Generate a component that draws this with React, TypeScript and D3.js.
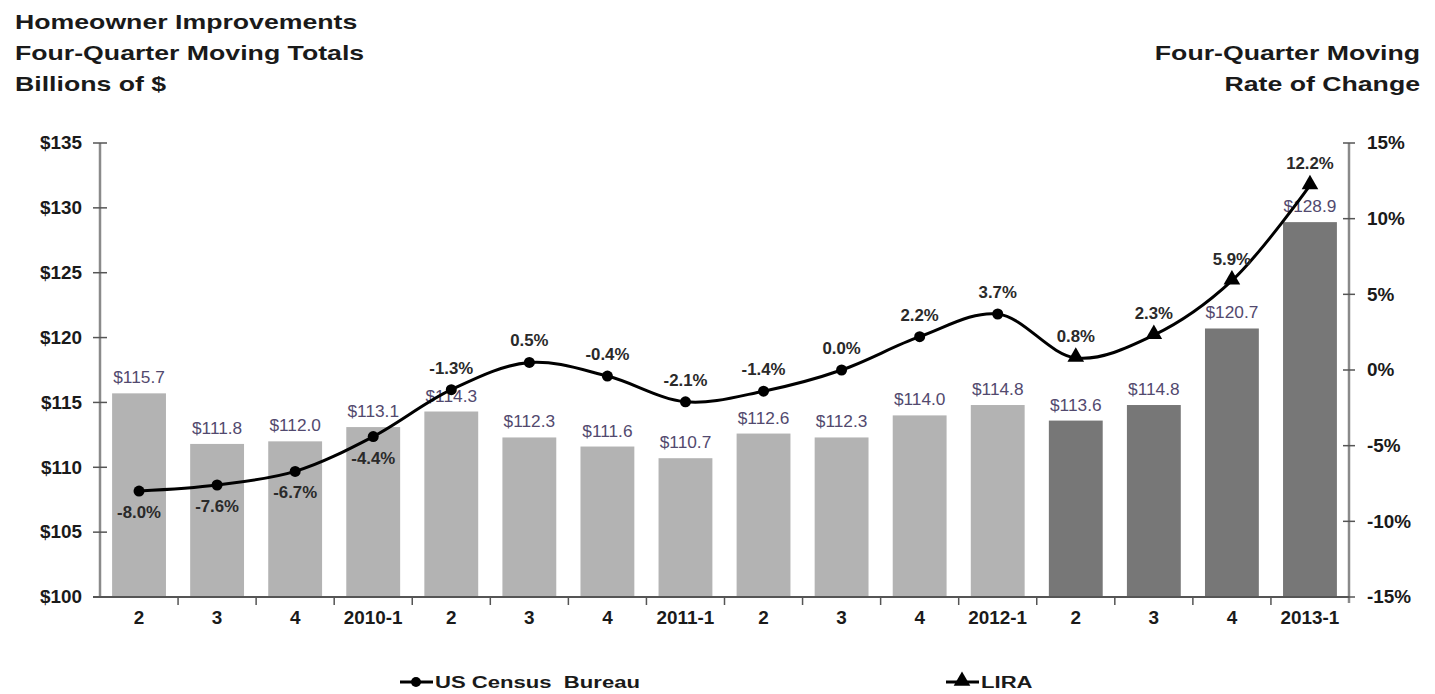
import { useRef, useEffect } from "react";
import * as d3 from "d3";

const quarters = ["2", "3", "4", "2010-1", "2", "3", "4", "2011-1", "2", "3", "4", "2012-1", "2", "3", "4", "2013-1"];
const totals = [115.7, 111.8, 112.0, 113.1, 114.3, 112.3, 111.6, 110.7, 112.6, 112.3, 114.0, 114.8, 113.6, 114.8, 120.7, 128.9];
const rates = [-8.0, -7.6, -6.7, -4.4, -1.3, 0.5, -0.4, -2.1, -1.4, 0.0, 2.2, 3.7, 0.8, 2.3, 5.9, 12.2];
// which points come from LIRA projections (rest is US Census Bureau)
const isLira = [false, false, false, false, false, false, false, false, false, false, false, false, true, true, true, true];
// rate labels that sit under the point
const labelBelow = [true, true, true, true, false, false, false, false, false, false, false, false, false, false, false, false];
const leftTicks = [100, 105, 110, 115, 120, 125, 130, 135];
const rightTicks = [-15, -10, -5, 0, 5, 10, 15];

type Sel = d3.Selection<any, unknown, null, undefined>;

// text with a bit of horizontal stretch, like the original image
function txt(
  parent: Sel,
  x: number,
  y: number,
  s: string,
  o: { size: number; bold?: boolean; anchor?: string; sx?: number; fill?: string; dy?: string }
) {
  return parent
    .append("text")
    .attr("transform", `translate(${x}, ${y}) scale(${o.sx ?? 1}, 1)`)
    .attr("text-anchor", o.anchor ?? "start")
    .attr("dy", o.dy ?? null)
    .attr("font-size", o.size)
    .attr("font-weight", o.bold ? "bold" : "normal")
    .attr("fill", o.fill ?? "#1a1a1a")
    .text(s);
}

export default function App() {
  const ref = useRef<HTMLDivElement>(null);

  function init() {
    if (!ref.current) return;
    ref.current.innerHTML = "";

    const W = 1435, H = 694;
    const margin = { top: 143, left: 100, right: W - 1349, bottom: H - 597 };
    const width = W - margin.left - margin.right;
    const height = H - margin.top - margin.bottom;
    const axisColor = "#8a8a8a";

    const svg = d3
      .select(ref.current)
      .append("svg")
      .attr("width", W)
      .attr("height", H)
      .style("display", "block")
      .style("font-family", "'Liberation Sans', Arial, sans-serif");

    svg.append("rect").attr("width", W).attr("height", H).attr("fill", "#fff");

    // Titles
    ["Homeowner Improvements", "Four-Quarter Moving Totals", "Billions of $"].forEach((t, i) =>
      txt(svg, 15, 29 + i * 31, t, { size: 21, bold: true, sx: 1.27 })
    );
    ["Four-Quarter Moving", "Rate of Change"].forEach((t, i) =>
      txt(svg, 1420, 60 + i * 31, t, { size: 21, bold: true, sx: 1.27, anchor: "end" })
    );

    const x = d3.scaleBand().domain(quarters.map((_, i) => String(i))).range([0, width]).paddingInner(0.31).paddingOuter(0.155);
    const yL = d3.scaleLinear().domain([100, 135]).range([height, 0]);
    const yR = d3.scaleLinear().domain([-15, 15]).range([height, 0]);
    const step = x.step();
    const cx = (i: number) => x(String(i))! + x.bandwidth() / 2;

    const g = svg.append("g").attr("transform", `translate(${margin.left}, ${margin.top})`);

    // Bars
    g.selectAll("rect.bar")
      .data(totals)
      .join("rect")
      .attr("class", "bar")
      .attr("x", (_, i) => x(String(i))!)
      .attr("width", x.bandwidth())
      .attr("y", (d) => yL(d))
      .attr("height", (d) => height - yL(d))
      .attr("fill", (_, i) => (isLira[i] ? "#777777" : "#b3b3b3"));

    // Bar labels
    totals.forEach((d, i) =>
      txt(g, cx(i), yL(d) - 10, "$" + d.toFixed(1), { size: 16, anchor: "middle", sx: 1.08, fill: "#52496e" })
    );

    // Left axis
    const yAxisL = g.append("g");
    yAxisL.append("line").attr("x1", 0).attr("x2", 0).attr("y1", 0).attr("y2", height)
      .attr("stroke", axisColor).attr("stroke-width", 2.5);
    leftTicks.forEach((t) => {
      yAxisL.append("line").attr("x1", -7).attr("x2", 7).attr("y1", yL(t)).attr("y2", yL(t))
        .attr("stroke", "#555").attr("stroke-width", 1.5);
      txt(yAxisL, -18, yL(t), "$" + t, { size: 18, bold: true, anchor: "end", dy: "0.35em", sx: 1.05 });
    });

    // Right axis
    const yAxisR = g.append("g").attr("transform", `translate(${width}, 0)`);
    yAxisR.append("line").attr("x1", 0).attr("x2", 0).attr("y1", 0).attr("y2", height + 6)
      .attr("stroke", axisColor).attr("stroke-width", 2.5);
    rightTicks.forEach((t) => {
      yAxisR.append("line").attr("x1", -6).attr("x2", 6).attr("y1", yR(t)).attr("y2", yR(t))
        .attr("stroke", "#555").attr("stroke-width", 1.5);
      txt(yAxisR, 18, yR(t), t + "%", { size: 18, bold: true, dy: "0.35em", sx: 1.05 });
    });

    // Bottom axis
    const xAxis = g.append("g").attr("transform", `translate(0, ${height})`);
    xAxis.append("line").attr("x1", -7).attr("x2", width).attr("y1", 0).attr("y2", 0)
      .attr("stroke", "#555").attr("stroke-width", 2);
    quarters.forEach((q, i) => {
      if (i > 0) {
        xAxis.append("line").attr("x1", i * step).attr("x2", i * step).attr("y1", 0).attr("y2", 8)
          .attr("stroke", "#555").attr("stroke-width", 1.5);
      }
      txt(xAxis, cx(i), 27, q, { size: 18, bold: true, anchor: "middle", sx: 1.05 });
    });

    // Rate line
    const line = d3.line<number>().x((_, i) => cx(i)).y((d) => yR(d)).curve(d3.curveCatmullRom.alpha(0.5));
    g.append("path").datum(rates).attr("d", line).attr("fill", "none").attr("stroke", "#000").attr("stroke-width", 3);

    const tri = d3.symbol().type(d3.symbolTriangle).size(120);
    rates.forEach((r, i) => {
      if (isLira[i]) {
        g.append("path").attr("d", tri()!).attr("transform", `translate(${cx(i)}, ${yR(r) - 1})`).attr("fill", "#000");
      } else {
        g.append("circle").attr("cx", cx(i)).attr("cy", yR(r)).attr("r", 5.5).attr("fill", "#000");
      }
      txt(g, cx(i), labelBelow[i] ? yR(r) + 27 : yR(r) - 16, r.toFixed(1) + "%", {
        size: 16, bold: true, anchor: "middle", sx: 1.05, fill: "#2a2a2a",
      });
    });

    // Legend
    const legend = [
      { label: "US Census  Bureau", x: 400, lira: false },
      { label: "LIRA", x: 946, lira: true },
    ];
    legend.forEach((l) => {
      const lg = svg.append("g").attr("transform", `translate(${l.x}, 682)`);
      lg.append("line").attr("x1", 0).attr("x2", 33).attr("y1", 0).attr("y2", 0).attr("stroke", "#000").attr("stroke-width", 3);
      if (l.lira) {
        lg.append("path").attr("d", tri()!).attr("transform", "translate(16, -1)").attr("fill", "#000");
      } else {
        lg.append("circle").attr("cx", 16).attr("cy", 0).attr("r", 5).attr("fill", "#000");
      }
      txt(lg, 35, 0, l.label.replace(/ /g, "\u00a0"), { size: 17, bold: true, dy: "0.36em", sx: 1.3 });
    });
  }

  useEffect(init, []);

  return <div ref={ref} style={{ position: "absolute", top: 0, left: 0 }}></div>;
}
